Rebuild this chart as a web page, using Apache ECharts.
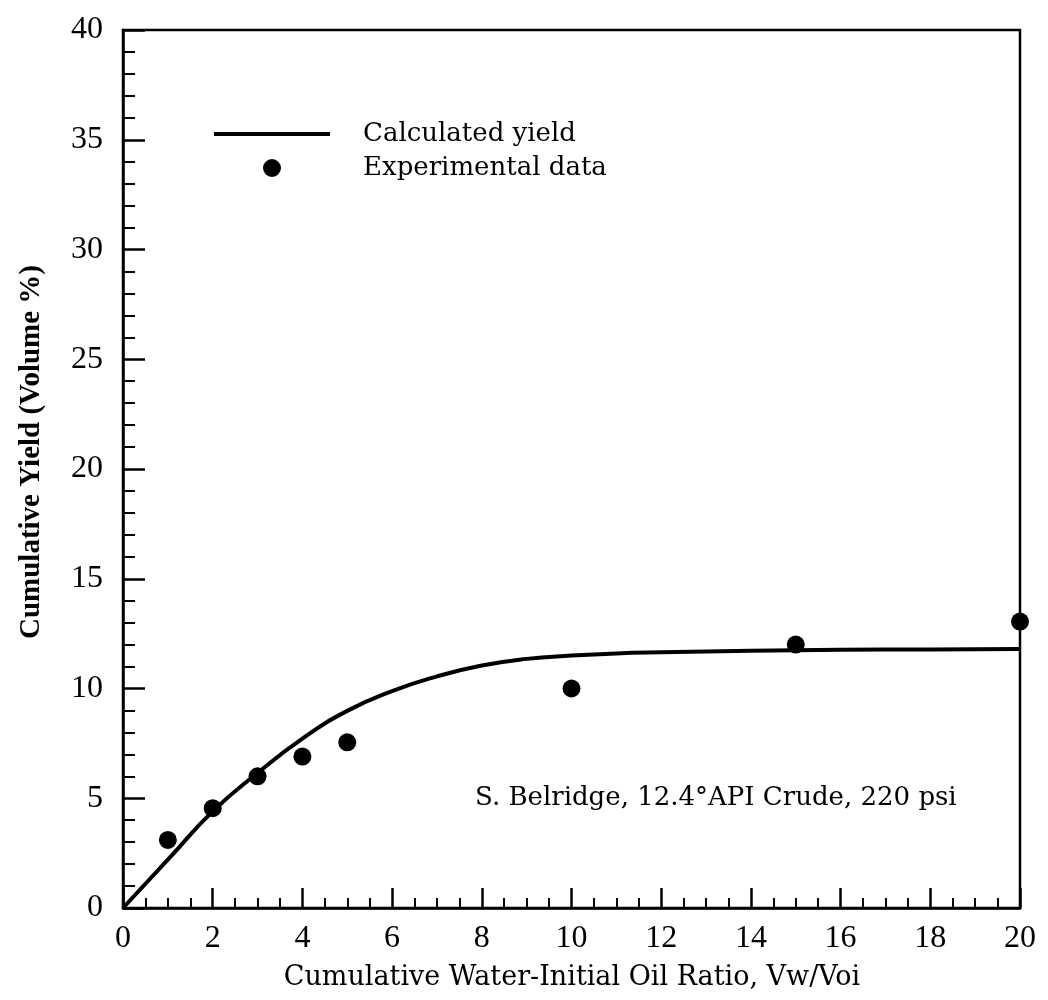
<!DOCTYPE html>
<html>
<head>
<meta charset="utf-8">
<script src="https://cdn.jsdelivr.net/npm/echarts@6/dist/echarts.min.js"></script>
<style>html,body{margin:0;padding:0;background:#fff;}#c{width:1048px;height:1000px;}</style>
</head>
<body>
<div id="c"></div>
<script>
// Experimental data
var expX = [1, 2, 3, 4, 5, 10, 15, 20];
var expY = [3.1, 4.55, 6.0, 6.9, 7.55, 10.0, 12.0, 13.05];
// Calculated yield curve
var calcX = [0, 1, 2, 3, 4, 5, 6, 7, 8, 9, 10, 11, 12, 14, 16, 18, 20];
var calcY = [0, 2.2, 4.4, 6.15, 7.72, 8.98, 9.88, 10.55, 11.05, 11.35, 11.5, 11.6, 11.65, 11.72, 11.76, 11.78, 11.8];
var xTicks = [0, 2, 4, 6, 8, 10, 12, 14, 16, 18, 20];
var yTicks = [0, 5, 10, 15, 20, 25, 30, 35, 40];

var TIMES = '"Liberation Serif", serif';
var BOOK = '"DejaVu Serif", serif';
var chart = echarts.init(document.getElementById('c'));
function pairs(xs, ys) { return xs.map(function (x, i) { return [x, ys[i]]; }); }

chart.setOption({
  animation: false,
  backgroundColor: '#fff',
  grid: { left: 123, right: 28, top: 30, bottom: 92, show: true, borderColor: '#000', borderWidth: 2.5, backgroundColor: 'transparent' },
  xAxis: {
    type: 'value', min: xTicks[0], max: xTicks[xTicks.length - 1], interval: 2,
    axisLine: { lineStyle: { color: '#000', width: 2.5 } },
    axisTick: { inside: true, length: 20, lineStyle: { color: '#000', width: 2.5 } },
    minorTick: { show: true, splitNumber: 4, length: 10, lineStyle: { color: '#000', width: 2 } },
    splitLine: { show: false },
    axisLabel: { color: '#000', fontFamily: TIMES, fontSize: 32, margin: 15 }
  },
  yAxis: {
    type: 'value', min: yTicks[0], max: yTicks[yTicks.length - 1], interval: 5,
    axisLine: { lineStyle: { color: '#000', width: 2.5 } },
    axisTick: { inside: true, length: 22, lineStyle: { color: '#000', width: 2.5 } },
    minorTick: { show: true, splitNumber: 5, length: 12, lineStyle: { color: '#000', width: 2 } },
    splitLine: { show: false },
    axisLabel: { color: '#000', fontFamily: TIMES, fontSize: 32, margin: 20 }
  },
  legend: [
    {
      left: 209, top: 116, itemWidth: 116, itemHeight: 4, icon: 'rect',
      textStyle: { color: '#000', fontFamily: BOOK, fontSize: 26, padding: [0, 0, 0, 28] },
      data: ['Calculated yield']
    },
    {
      left: 258, top: 150, itemWidth: 18, itemHeight: 18, icon: 'circle',
      textStyle: { color: '#000', fontFamily: BOOK, fontSize: 26, padding: [0, 0, 0, 77] },
      data: ['Experimental data']
    }
  ],
  series: [
    {
      name: 'Calculated yield', type: 'line', smooth: 0.5, showSymbol: false, symbol: 'none',
      lineStyle: { color: '#000', width: 4 }, itemStyle: { color: '#000' },
      data: pairs(calcX, calcY), z: 3
    },
    {
      name: 'Experimental data', type: 'scatter', symbol: 'circle', symbolSize: 18,
      itemStyle: { color: '#000', opacity: 1 }, data: pairs(expX, expY), z: 4, clip: false
    }
  ],
  graphic: [
    { type: 'text', x: 475, y: 798, style: { text: 'S. Belridge, 12.4\u00b0API Crude, 220 psi', fill: '#000', font: '26px ' + BOOK, verticalAlign: 'middle' } },
    { type: 'text', x: 572, y: 978, style: { text: 'Cumulative Water-Initial Oil Ratio, Vw/Voi', fill: '#000', font: '27px ' + BOOK, align: 'center', verticalAlign: 'middle' } },
    { type: 'text', x: 32, y: 452, rotation: Math.PI / 2, style: { text: 'Cumulative Yield (Volume %)', fill: '#000', font: 'bold 29px ' + TIMES, align: 'center', verticalAlign: 'middle' } }
  ]
});
</script>
</body>
</html>
